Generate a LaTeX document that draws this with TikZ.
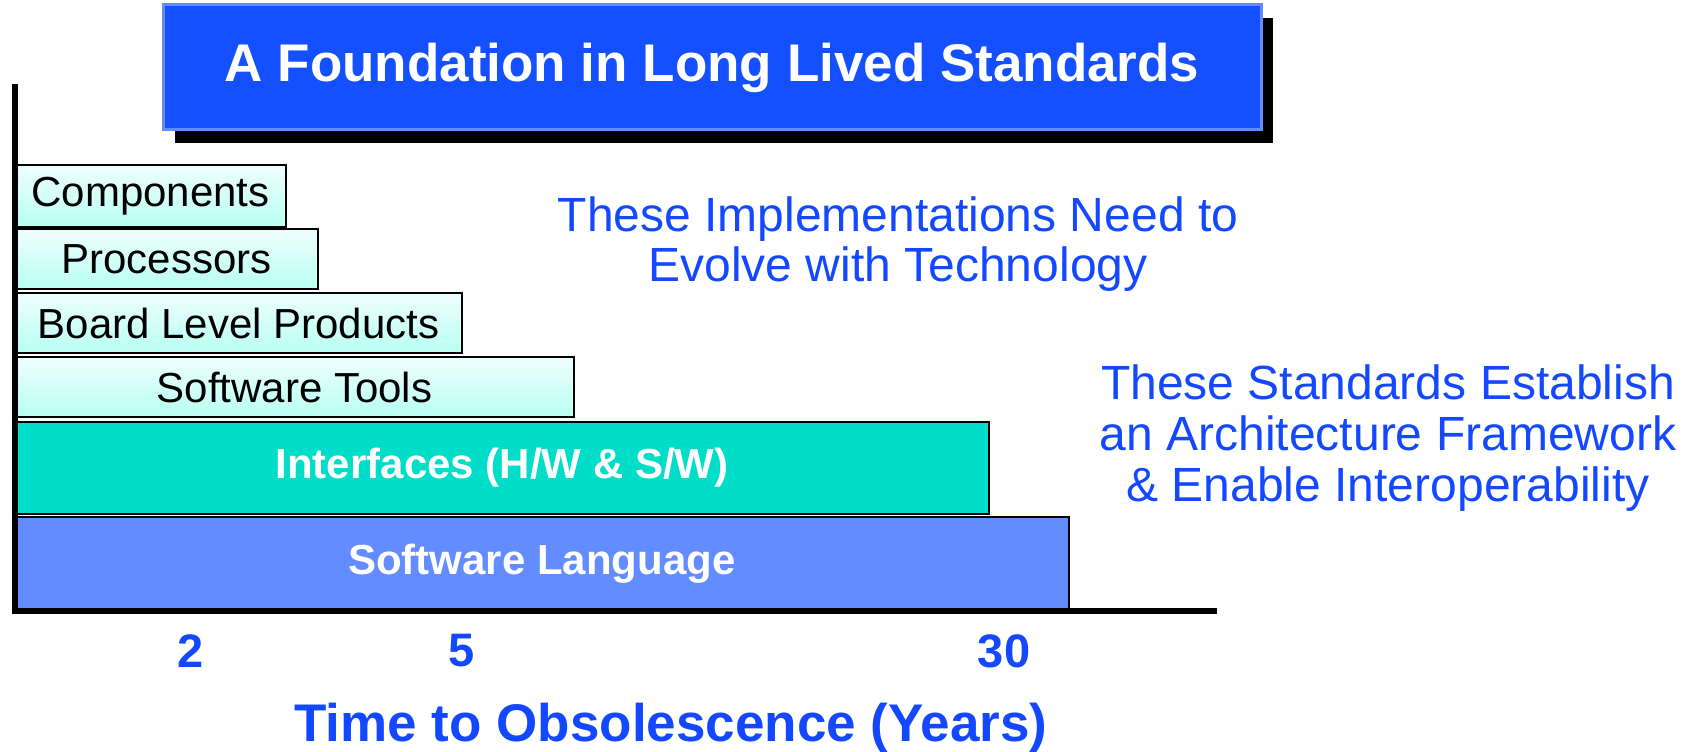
\documentclass[tikz,border=0pt]{standalone}
\usepackage{fontspec}
\setmainfont{Liberation Sans}
\usepackage{tikz}
\usetikzlibrary{shadows}
\definecolor{titleblue}{RGB}{20,80,255}
\definecolor{titleedge}{RGB}{100,140,255}
\definecolor{noteblue}{RGB}{20,72,255}
\definecolor{ifteal}{RGB}{0,221,200}
\definecolor{langblue}{RGB}{98,140,255}
\definecolor{lighttop}{RGB}{238,255,252}
\definecolor{lightbot}{RGB}{184,255,242}

\begin{document}
\begin{tikzpicture}[x=1pt,y=1pt,
		bar/.style={draw=black, line width=1.2pt, anchor=south west, inner sep=0pt, outer sep=0pt},
		lightbar/.style={bar, top color=lighttop, bottom color=lightbot, font=\fontsize{21}{24}\selectfont},
		boldbar/.style={bar, text=white, font=\fontsize{21}{24}\selectfont\bfseries},
		ticklabel/.style={text=noteblue, font=\fontsize{23.5}{26}\selectfont\bfseries},
		bluenote/.style={text=noteblue, align=center, font=\fontsize{24}{25.3}\selectfont}]
					\useasboundingbox (0,0) rectangle (847.5,375.5);
					\coordinate (T) at (7.5,333.5);
					\coordinate (O) at (7.5,70);
					\coordinate (R) at (608.5,70);
					
					\node[draw=titleedge, line width=1.5pt, fill=titleblue, minimum width=549pt, minimum height=62.5pt,
						text=white, font=\fontsize{26.5}{30}\selectfont\bfseries,
						drop shadow={fill=black, opacity=1, shadow xshift=6pt, shadow yshift=-6.5pt}]
						(title) at (356,341.75) {A Foundation in Long Lived Standards};
					
					\node[lightbar, minimum width=135.5pt, minimum height=31pt] (comp) at (7.5,262) {Components};
					\node[lightbar, minimum width=151.5pt, minimum height=30pt] (proc) at (7.5,231) {Processors};
					\node[lightbar, minimum width=223.5pt, minimum height=30pt] (board) at (7.5,199) {Board Level Products};
					\node[lightbar, minimum width=279.5pt, minimum height=30pt] (tools) at (7.5,167) {Software Tools};
					\node[boldbar, fill=ifteal, minimum width=487pt, minimum height=46pt] (iface) at (7.5,118.5) {Interfaces (H/W \& S/W)};
					\node[boldbar, fill=langblue, minimum width=527pt, minimum height=47pt] (lang) at (7.5,70) {Software Language};
					
					\draw[line width=2.6pt] (T) -- (O) -- (R);
					
					\node[bluenote] (impl) at (449,253.5) {These Implementations Need to\\Evolve with Technology};
					\node[bluenote] (stds) at (694,156.5) {These Standards Establish\\an Architecture Framework\\\& Enable Interoperability};
					
					\node[ticklabel] (two) at (95.5,50) {2};
					\node[ticklabel] (five) at (231,50) {5};
					\node[ticklabel] (thirty) at (502,50) {30};
					\node[text=noteblue, font=\fontsize{26.5}{30}\selectfont\bfseries, anchor=base] (xlabel) at (335.5,5) {Time to Obsolescence (Years)};
				\end{tikzpicture}
\end{document}
